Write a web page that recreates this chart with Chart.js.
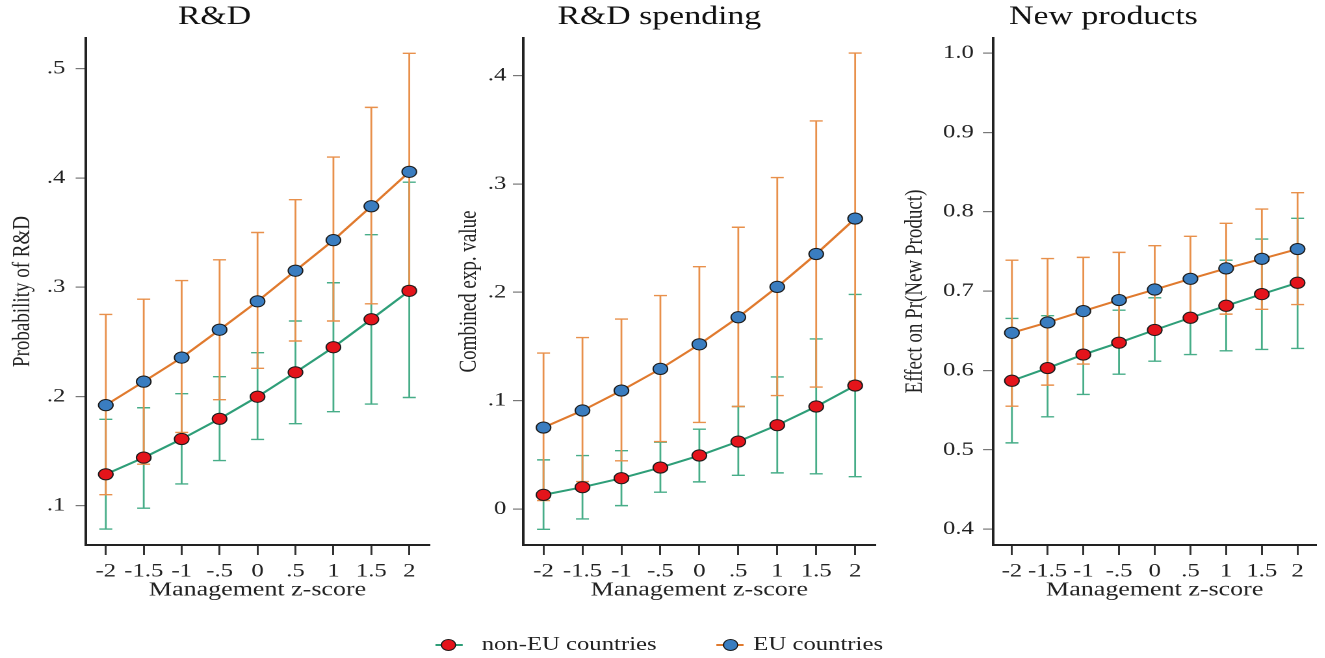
<!DOCTYPE html>
<html>
<head>
<meta charset="utf-8">
<script src="https://cdn.jsdelivr.net/npm/chart.js@4.4.1/dist/chart.umd.min.js"></script>
<style>
  html, body { margin: 0; padding: 0; background: #fff; overflow: hidden; }
  #wrap { position: absolute; left: 0; top: 0; width: 1019.2px; height: 658px; transform: scaleX(1.3); transform-origin: 0 0; }
  canvas { position: absolute; top: 0; }
  .lg-line { position: absolute; height: 2px; }
  .lg-dot { position: absolute; width: 10px; height: 10px; border-radius: 50%; border: 1px solid #1b1b1b; }
  .lg-text { position: absolute; font: 19px 'Liberation Serif', 'Times New Roman', serif; color: #222; line-height: 22px; white-space: nowrap; }
</style>
</head>
<body>
<div id="wrap">
  <canvas id="c1" width="340" height="610" style="left:0px"></canvas>
  <canvas id="c2" width="340" height="610" style="left:340px"></canvas>
  <canvas id="c3" width="339" height="610" style="left:680px"></canvas>
  <div class="lg-line" style="left:335px; top:644px; width:21px; background:#2E9E78"></div>
  <div class="lg-dot" style="left:339px; top:639px; background:#E4141B"></div>
  <div class="lg-text" style="left:370.5px; top:633px">non-EU countries</div>
  <div class="lg-line" style="left:551px; top:644px; width:21px; background:#E07A2E"></div>
  <div class="lg-dot" style="left:556px; top:639px; background:#3A7DC0"></div>
  <div class="lg-text" style="left:579.5px; top:633px">EU countries</div>
</div>
<script>
// ---------------- data ----------------
const zScores = [-2, -1.5, -1, -0.5, 0, 0.5, 1, 1.5, 2];
const xTickLabels = ['-2', '-1.5', '-1', '-.5', '0', '.5', '1', '1.5', '2'];

// Panel 1: R&D (probability)
const rdNonEU   = [0.1287, 0.144, 0.161, 0.1795, 0.1997, 0.222, 0.245, 0.2706, 0.2966];
const rdNonEULo = [0.0786, 0.0977, 0.1199, 0.1413, 0.1606, 0.175, 0.186, 0.193, 0.199];
const rdNonEUHi = [0.179, 0.1896, 0.2025, 0.218, 0.240, 0.269, 0.304, 0.348, 0.396];
const rdEU      = [0.192, 0.2135, 0.2355, 0.261, 0.287, 0.315, 0.343, 0.374, 0.4055];
const rdEULo    = [0.110, 0.138, 0.167, 0.197, 0.2257, 0.2507, 0.269, 0.2847, 0.300];
const rdEUHi    = [0.275, 0.289, 0.306, 0.325, 0.350, 0.380, 0.419, 0.4645, 0.514];
const rdYTicks  = [0.1, 0.2, 0.3, 0.4, 0.5];
const rdYLabels = ['.1', '.2', '.3', '.4', '.5'];

// Panel 2: R&D spending (combined expected value)
const spNonEU   = [0.0132, 0.0203, 0.0286, 0.0384, 0.0495, 0.0624, 0.0775, 0.0947, 0.114];
const spNonEULo = [-0.0185, -0.009, 0.0033, 0.0157, 0.0252, 0.0313, 0.0335, 0.0326, 0.030];
const spNonEUHi = [0.0455, 0.0495, 0.054, 0.0618, 0.0738, 0.0947, 0.122, 0.157, 0.198];
const spEU      = [0.0753, 0.091, 0.1094, 0.1294, 0.152, 0.177, 0.205, 0.2353, 0.268];
const spEULo    = [0.008, 0.0255, 0.0446, 0.0624, 0.080, 0.0947, 0.1048, 0.1126, 0.118];
const spEUHi    = [0.144, 0.1583, 0.1753, 0.197, 0.2236, 0.260, 0.3058, 0.358, 0.4206];
const spYTicks  = [0, 0.1, 0.2, 0.3, 0.4];
const spYLabels = ['0', '.1', '.2', '.3', '.4'];

// Panel 3: New products
const npNonEU   = [0.587, 0.603, 0.620, 0.635, 0.651, 0.6664, 0.6815, 0.6962, 0.7105];
const npNonEULo = [0.5087, 0.5415, 0.5697, 0.5953, 0.6117, 0.620, 0.6247, 0.6265, 0.6277];
const npNonEUHi = [0.6656, 0.669, 0.672, 0.676, 0.6916, 0.715, 0.739, 0.7656, 0.7917];
const npEU      = [0.6474, 0.6605, 0.6748, 0.6887, 0.702, 0.7155, 0.7286, 0.7407, 0.753];
const npEULo    = [0.555, 0.5815, 0.608, 0.634, 0.650, 0.662, 0.671, 0.677, 0.683];
const npEUHi    = [0.739, 0.741, 0.7425, 0.7488, 0.7572, 0.769, 0.7854, 0.8034, 0.824];
const npYTicks  = [0.4, 0.5, 0.6, 0.7, 0.8, 0.9, 1.0];
const npYLabels = ['0.4', '0.5', '0.6', '0.7', '0.8', '0.9', '1.0'];

// ---------------- styling ----------------
const FONT = "'Liberation Serif', 'Times New Roman', serif";
const GREEN = '#2E9E78', GREEN_BAR = '#47AD88';
const ORANGE = '#E07A2E', ORANGE_BAR = '#E8904B';
const RED = '#E4141B', BLUE = '#3A7DC0';

Chart.defaults.font.family = FONT;
Chart.defaults.color = '#222';

const errorBars = {
  id: 'errorBars',
  beforeDatasetsDraw(chart) {
    const { ctx, scales: { x, y } } = chart;
    const cap = 5;
    chart.data.datasets.forEach(ds => {
      if (!ds.errLo) return;
      ctx.save();
      ctx.strokeStyle = ds.errColor;
      ctx.lineWidth = 1.4;
      ds.data.forEach((pt, i) => {
        const px = x.getPixelForValue(pt.x);
        const yl = y.getPixelForValue(ds.errLo[i]);
        const yh = y.getPixelForValue(ds.errHi[i]);
        ctx.beginPath();
        ctx.moveTo(px, yl); ctx.lineTo(px, yh);
        ctx.moveTo(px - cap, yl); ctx.lineTo(px + cap, yl);
        ctx.moveTo(px - cap, yh); ctx.lineTo(px + cap, yh);
        ctx.stroke();
      });
      ctx.restore();
    });
  }
};

function series(vals) { return zScores.map((z, i) => ({ x: z, y: vals[i] })); }

function makeChart(id, c) {
  return new Chart(document.getElementById(id), {
    type: 'line',
    data: {
      datasets: [
        {
          label: 'non-EU countries', data: series(c.nonEU), errLo: c.nonEULo, errHi: c.nonEUHi, errColor: GREEN_BAR,
          borderColor: GREEN, borderWidth: 2, pointRadius: 5.6, pointBorderWidth: 1,
          pointBackgroundColor: RED, pointBorderColor: '#1b1b1b', tension: 0, order: 2
        },
        {
          label: 'EU countries', data: series(c.eu), errLo: c.euLo, errHi: c.euHi, errColor: ORANGE_BAR,
          borderColor: ORANGE, borderWidth: 2, pointRadius: 5.6, pointBorderWidth: 1,
          pointBackgroundColor: BLUE, pointBorderColor: '#1b1b1b', tension: 0, order: 1
        }
      ]
    },
    options: {
      responsive: false,
      animation: false,
      devicePixelRatio: 2,
      events: [],
      layout: { padding: { left: 0, right: c.padRight, top: 0, bottom: 0 } },
      plugins: {
        legend: { display: false },
        tooltip: { enabled: false },
        title: {
          display: true, text: c.title, color: '#111',
          font: { size: 26, weight: 'normal', family: FONT },
          padding: { top: 1.4, bottom: 5.4 }
        }
      },
      scales: {
        x: {
          type: 'linear', min: -2.26, max: 2.26,
          afterBuildTicks: s => { s.ticks = zScores.map(v => ({ value: v })); },
          afterFit: s => { s.height = 65; },
          ticks: { callback: (v, i) => xTickLabels[i], font: { size: 19 }, color: '#222', padding: 5, maxRotation: 0, autoSkip: false },
          grid: { display: true, drawOnChartArea: false, drawTicks: true, tickLength: 10, color: '#333', lineWidth: 1.5 },
          border: { display: true, color: '#222', width: 2 },
          title: { display: true, text: 'Management z-score', font: { size: 20 }, color: '#222', padding: { top: 0, bottom: 8 } }
        },
        y: {
          type: 'linear', min: c.yMin, max: c.yMax,
          afterBuildTicks: s => { s.ticks = c.yTicks.map(v => ({ value: v })); },
          afterFit: s => { s.width = c.yAxisWidth; },
          ticks: { callback: (v, i) => c.yLabels[i], font: { size: 19 }, color: '#222', padding: c.yTickPad, autoSkip: false },
          grid: { display: true, drawOnChartArea: false, drawTicks: true, tickLength: 8, color: '#777', lineWidth: 1.2 },
          border: { display: true, color: '#222', width: 2 },
          title: { display: true, text: c.yTitle, font: { size: 19 }, color: '#222', padding: { top: c.yTitlePad, bottom: 0 } }
        }
      }
    },
    plugins: [errorBars]
  });
}

makeChart('c1', {
  title: 'R&D', yTitle: 'Probability of R&D',
  nonEU: rdNonEU, nonEULo: rdNonEULo, nonEUHi: rdNonEUHi,
  eu: rdEU, euLo: rdEULo, euHi: rdEUHi,
  yMin: 0.064, yMax: 0.528, yTicks: rdYTicks, yLabels: rdYLabels,
  yAxisWidth: 66.2, yTickPad: 8, yTitlePad: 5.9, padRight: 10
});
makeChart('c2', {
  title: 'R&D spending', yTitle: 'Combined exp. value',
  nonEU: spNonEU, nonEULo: spNonEULo, nonEUHi: spNonEUHi,
  eu: spEU, euLo: spEULo, euHi: spEUHi,
  yMin: -0.033, yMax: 0.4345, yTicks: spYTicks, yLabels: spYLabels,
  yAxisWidth: 62.5, yTickPad: 5, yTitlePad: 9.4, padRight: 5.6
});
makeChart('c3', {
  title: 'New products', yTitle: 'Effect on Pr(New Product)',
  nonEU: npNonEU, nonEULo: npNonEULo, nonEUHi: npNonEUHi,
  eu: npEU, euLo: npEULo, euHi: npEUHi,
  yMin: 0.38, yMax: 1.019, yTicks: npYTicks, yLabels: npYLabels,
  yAxisWidth: 84.1, yTickPad: 7, yTitlePad: 12.4, padRight: 1.3
});
</script>
</body>
</html>
